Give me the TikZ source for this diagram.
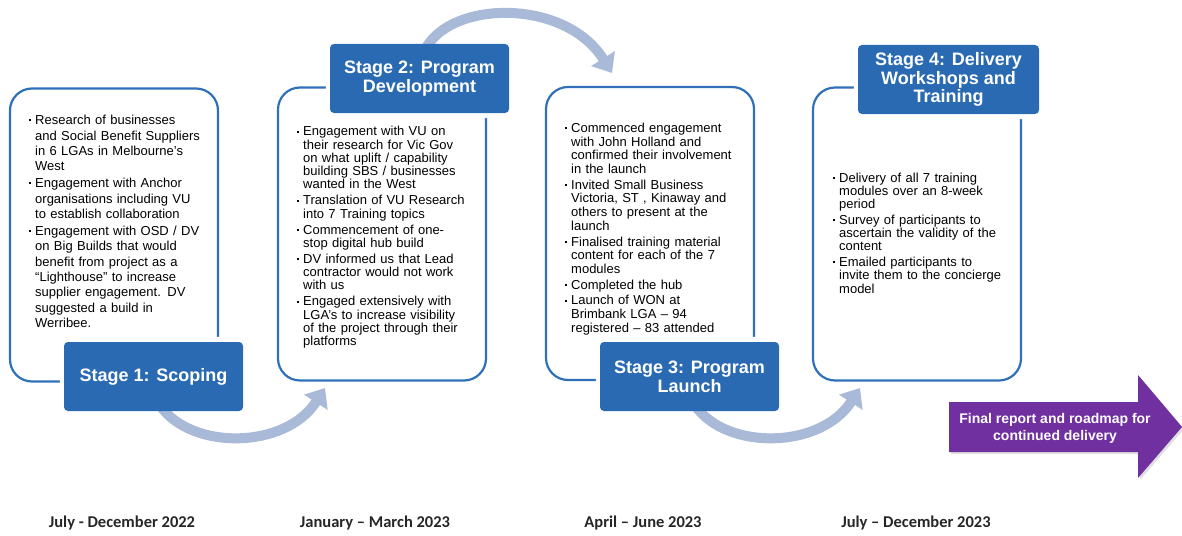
\documentclass[tikz,border=0pt]{standalone}
\usepackage{fontspec}
\setmainfont{Liberation Sans}
\newfontfamily\datefont{Carlito}
\usetikzlibrary{arrows.meta}

\definecolor{stageblue}{RGB}{42,106,178}
\definecolor{edgeblue}{RGB}{47,112,184}
\definecolor{flowblue}{RGB}{169,185,216}
\definecolor{finalpurple}{RGB}{112,48,160}
\definecolor{datetext}{RGB}{38,38,38}

\pgfdeclarelayer{boxes}
\pgfdeclarelayer{halo}
\pgfdeclarelayer{flow}
\pgfsetlayers{boxes,halo,flow,main}

% one bullet point with hanging indent; lines are broken by hand with \\
\newcommand\bitem[1]{\par\begingroup\hangindent=6pt\hangafter=1\noindent
  \def\\{\unskip\hfil\break}%
  \makebox[6pt][l]{\raisebox{3.2pt}{\rule{2pt}{2pt}}}\rule{0pt}{10pt}#1\par\endgroup}
\newcommand\itemgap[1]{\setlength{\parskip}{#1}}

\tikzset{
  contentbox/.style={draw=edgeblue, line width=2.2pt, rounded corners=22pt,
    minimum width=208pt, minimum height=293pt, fill=white, inner sep=0pt},
  stagelabel/.style={fill=stageblue, rounded corners=4pt, minimum width=179pt,
    minimum height=69pt, text=white, align=center, inner sep=0pt,
    font=\bfseries\fontsize{18}{19}\selectfont},
  bullets/.style={anchor=north west, inner sep=0pt, text width=200pt, align=left,
    font=\fontsize{13}{#1}\selectfont},
  flowarrow/.style={draw=flowblue, line width=10pt,
    -{Triangle[width=27pt,length=17pt]}},
  datelabel/.style={font=\datefont\bfseries\fontsize{16.5}{18}\selectfont,
    text=datetext, inner sep=0pt},
  finaltext/.style={text=white, align=center, inner sep=0pt,
    font=\bfseries\fontsize{14}{17}\selectfont},
}

\begin{document}
\begin{tikzpicture}[x=1pt, y=-1pt]
\useasboundingbox (0,0) rectangle (1182,535);

% stage headings
\node[stagelabel] (s1) at (153.5,376.5) {Stage 1: Scoping};
\node[stagelabel] (s2) at (419.5,78.5) {Stage 2: Program\\Development};
\node[stagelabel] (s3) at (689.5,376.5) {Stage 3: Program\\Launch};
\node[stagelabel, minimum width=181pt, font=\bfseries\fontsize{18}{18.5}\selectfont]
  (s4) at (948.5,79.5) {Stage 4: Delivery\\Workshops and\\Training};

% rounded content frames
\begin{pgfonlayer}{boxes}
  \node[contentbox] (c1) at (114,235) {};
  \node[contentbox] (c2) at (382,234) {};
  \node[contentbox] (c3) at (650,233.5) {};
  \node[contentbox] (c4) at (917,234) {};
\end{pgfonlayer}

% white margin that cuts the frames around each heading
\begin{pgfonlayer}{halo}
  \foreach \s in {s1,s2,s3,s4}
    \fill[white, rounded corners=4pt] ([shift={(-4,-5)}]\s.north west)
      rectangle ([shift={(4,5)}]\s.south east);
\end{pgfonlayer}

% bullet texts
\node[bullets=15.35] (b1) at (29,107.5) {\itemgap{1.6pt}%
\bitem{Research of businesses\\and Social Benefit Suppliers\\in 6 LGAs in Melbourne’s\\West}
\bitem{Engagement with Anchor\\organisations including VU\\to establish collaboration}
\bitem{Engagement with OSD / DV\\on Big Builds that would\\benefit from project as a\\“Lighthouse” to increase\\supplier engagement. DV\\suggested a build in\\Werribee.}};

\node[bullets=13.25] (b2) at (297,119.5) {\itemgap{2.8pt}%
\bitem{Engagement with VU on\\their research for Vic Gov\\on what uplift / capability\\building SBS / businesses\\wanted in the West}
\bitem{Translation of VU Research\\into 7 Training topics}
\bitem{Commencement of one-\\stop digital hub build}
\bitem{DV informed us that Lead\\contractor would not work\\with us}
\bitem{Engaged extensively with\\LGA’s to increase visibility\\of the project through their\\platforms}};

\node[bullets=13.7] (b3) at (565,116.5) {\itemgap{2pt}%
\bitem{Commenced engagement\\with John Holland and\\confirmed their involvement\\in the launch}
\bitem{Invited Small Business\\Victoria, ST , Kinaway and\\others to present at the\\launch}
\bitem{Finalised training material\\content for each of the 7\\modules}
\bitem{Completed the hub}
\bitem{Launch of WON at\\Brimbank LGA – 94\\registered – 83 attended}};

\node[bullets=13.2] (b4) at (833,166.5) {\itemgap{2.5pt}%
\bitem{Delivery of all 7 training\\modules over an 8-week\\period}
\bitem{Survey of participants to\\ascertain the validity of the\\content}
\bitem{Emailed participants to\\invite them to the concierge\\model}};

% curved flow arrows between stages
\coordinate (t1) at (325,388);
\coordinate (t2) at (612,73);
\coordinate (t3) at (860,388);
\begin{pgfonlayer}{flow}
  \draw[flowarrow] ([shift={(6.5,-6)}]s1.south) .. controls (190,450) and (285,450) .. (t1);
  \draw[flowarrow] ([shift={(5.5,6)}]s2.north) .. controls (450,0) and (565,-2) .. (t2);
  \draw[flowarrow] ([shift={(5.5,-6)}]s3.south) .. controls (725,450) and (820,450) .. (t3);
\end{pgfonlayer}

% final block arrow
\fill[black!12] (951,404) -- (1140,404) -- (1140,377) -- (1184,429) -- (1140,480)
  -- (1140,454) -- (951,454) -- cycle;
\fill[finalpurple] (949,402) -- (1138,402) -- (1138,375) -- (1182,427) -- (1138,478)
  -- (1138,452) -- (949,452) -- cycle;
\node[finaltext] (final) at (1055,428.5) {Final report and roadmap for\\continued delivery};

% time periods
\node[datelabel] (d1) at (122,523) {July - December 2022};
\node[datelabel] (d2) at (375,523) {January – March 2023};
\node[datelabel] (d3) at (643,523) {April – June 2023};
\node[datelabel] (d4) at (916,523) {July – December 2023};
\end{tikzpicture}
\end{document}
